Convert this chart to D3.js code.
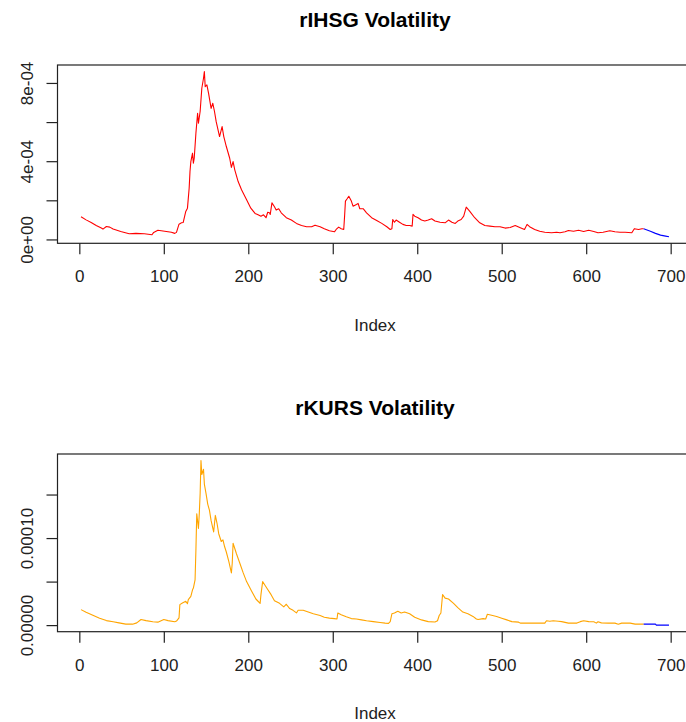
<!DOCTYPE html>
<html>
<head>
<meta charset="utf-8">
<script src="https://cdn.jsdelivr.net/npm/d3@7"></script>
<style>
  html, body { margin: 0; padding: 0; background: #fff; }
  svg { display: block; font-family: "Liberation Sans", Arial, sans-serif; }
</style>
</head>
<body>
<svg id="chart" width="686" height="722"></svg>
<script>
// ---------------- DATA ----------------
const titles = ["rIHSG Volatility", "rKURS Volatility"];
const xLabel = "Index";
const xTickValues = [0, 100, 200, 300, 400, 500, 600, 700];

// rIHSG fitted volatility (red)
const ihsgIndex = [2,8,14,20,26,28,32,36,40,49,59,67,77,86,88,93,101,109,113,115,118,121,123,126,128,130,131,132,134,135,136,138,140,141,143,145,147,148,149,151,153,156,158,160,162,166,169,171,174,178,180,182,184,188,192,198,203,208,211,215,218,221,223,225,226,228,231,233,236,239,245,251,257,263,269,275,279,285,290,296,302,304,307,310,313,314,315,317,319,322,324,328,330,332,336,340,346,352,358,364,368,370,371,373,375,379,383,387,391,394,395,397,401,405,409,413,417,421,427,433,437,441,445,448,452,455,458,462,468,474,480,486,492,498,504,510,516,522,527,530,533,539,545,551,559,565,569,575,579,585,591,597,603,609,614,620,628,634,640,646,654,657,662,666,668];
const ihsgValues = [1.16e-4,1.00e-4,0.87e-4,0.71e-4,0.58e-4,0.53e-4,0.66e-4,0.63e-4,0.53e-4,0.41e-4,0.29e-4,0.31e-4,0.29e-4,0.24e-4,0.36e-4,0.47e-4,0.42e-4,0.37e-4,0.31e-4,0.36e-4,0.78e-4,0.85e-4,0.87e-4,1.43e-4,1.60e-4,2.62e-4,3.47e-4,3.98e-4,4.41e-4,3.90e-4,4.15e-4,5.43e-4,6.45e-4,5.94e-4,6.54e-4,7.73e-4,8.24e-4,8.58e-4,7.81e-4,7.90e-4,7.47e-4,6.70e-4,6.96e-4,6.54e-4,6.02e-4,5.26e-4,5.77e-4,5.26e-4,4.75e-4,4.15e-4,3.68e-4,3.98e-4,3.56e-4,2.96e-4,2.54e-4,2.03e-4,1.60e-4,1.33e-4,1.28e-4,1.19e-4,1.26e-4,1.11e-4,1.39e-4,1.36e-4,1.28e-4,1.87e-4,1.67e-4,1.50e-4,1.57e-4,1.36e-4,1.11e-4,0.99e-4,0.82e-4,0.71e-4,0.65e-4,0.65e-4,0.73e-4,0.65e-4,0.55e-4,0.44e-4,0.39e-4,0.51e-4,0.63e-4,0.55e-4,0.51e-4,1.19e-4,1.96e-4,2.08e-4,2.21e-4,1.96e-4,1.70e-4,1.79e-4,1.84e-4,1.57e-4,1.57e-4,1.36e-4,1.11e-4,0.97e-4,0.82e-4,0.65e-4,0.51e-4,0.55e-4,1.02e-4,0.88e-4,0.99e-4,0.88e-4,0.77e-4,0.71e-4,0.71e-4,0.68e-4,1.28e-4,1.19e-4,1.11e-4,0.99e-4,0.94e-4,0.99e-4,1.06e-4,0.94e-4,0.88e-4,0.85e-4,0.99e-4,0.88e-4,0.82e-4,0.94e-4,1.02e-4,1.19e-4,1.65e-4,1.45e-4,1.11e-4,0.85e-4,0.71e-4,0.68e-4,0.65e-4,0.65e-4,0.58e-4,0.61e-4,0.71e-4,0.60e-4,0.51e-4,0.77e-4,0.65e-4,0.51e-4,0.42e-4,0.37e-4,0.34e-4,0.37e-4,0.34e-4,0.39e-4,0.46e-4,0.42e-4,0.47e-4,0.41e-4,0.47e-4,0.41e-4,0.34e-4,0.37e-4,0.44e-4,0.39e-4,0.37e-4,0.37e-4,0.34e-4,0.55e-4,0.51e-4,0.55e-4,0.55e-4];
// rIHSG forecast (blue)
const ihsgForecastIndex = [668,676,682,688,694,698];
const ihsgForecastValues = [0.55e-4,0.42e-4,0.31e-4,0.22e-4,0.17e-4,0.14e-4];

// rKURS fitted volatility (orange)
const kursIndex = [2,8,16,24,32,40,47,55,63,68,73,79,87,93,100,105,113,115,118,119,122,126,128,129,132,134,135,137,138,139,141,142,143,144,145,147,148,150,152,154,156,159,161,163,165,168,170,172,174,177,180,181,182,184,186,190,194,198,204,209,211,214,215,217,219,223,227,231,237,242,244,245,249,253,257,259,265,271,277,285,290,296,302,305,306,310,316,322,328,334,340,348,356,362,366,368,370,373,377,381,385,391,397,405,413,421,424,426,428,430,433,437,443,448,454,460,466,470,472,478,481,483,488,494,500,506,512,520,522,532,543,551,553,557,561,567,571,579,589,593,597,603,609,612,614,618,626,634,638,642,652,658,668];
const kursValues = [1.78e-5,1.48e-5,1.14e-5,0.80e-5,0.52e-5,0.38e-5,0.26e-5,0.11e-5,0.11e-5,0.26e-5,0.64e-5,0.52e-5,0.38e-5,0.34e-5,0.64e-5,0.52e-5,0.38e-5,0.46e-5,0.83e-5,2.35e-5,2.54e-5,2.73e-5,2.46e-5,2.92e-5,3.30e-5,4.06e-5,4.25e-5,5.19e-5,8.61e-5,1.28e-4,1.11e-4,1.28e-4,1.51e-4,1.89e-4,1.73e-4,1.79e-4,1.62e-4,1.51e-4,1.39e-4,1.32e-4,1.20e-4,1.07e-4,1.26e-4,1.17e-4,1.05e-4,0.96e-4,0.98e-4,0.90e-4,0.84e-4,0.73e-4,0.60e-4,0.71e-4,0.94e-4,0.88e-4,0.82e-4,0.71e-4,0.60e-4,0.50e-4,0.39e-4,0.30e-4,0.28e-4,0.25e-4,0.35e-4,0.50e-4,0.47e-4,0.41e-4,0.35e-4,0.28e-4,0.25e-4,0.21e-4,0.23e-4,0.24e-4,0.19e-4,0.17e-4,0.14e-4,0.17e-4,0.17e-4,0.15e-4,0.13e-4,0.11e-4,0.09e-4,0.08e-4,0.075e-4,0.07e-4,0.14e-4,0.12e-4,0.095e-4,0.075e-4,0.07e-4,0.06e-4,0.05e-4,0.04e-4,0.03e-4,0.023e-4,0.02e-4,0.04e-4,0.13e-4,0.14e-4,0.16e-4,0.14e-4,0.15e-4,0.13e-4,0.09e-4,0.06e-4,0.04e-4,0.035e-4,0.05e-4,0.11e-4,0.14e-4,0.35e-4,0.31e-4,0.30e-4,0.25e-4,0.20e-4,0.15e-4,0.13e-4,0.10e-4,0.07e-4,0.064e-4,0.075e-4,0.07e-4,0.125e-4,0.114e-4,0.10e-4,0.08e-4,0.06e-4,0.04e-4,0.034e-4,0.023e-4,0.023e-4,0.023e-4,0.023e-4,0.05e-4,0.045e-4,0.05e-4,0.045e-4,0.04e-4,0.023e-4,0.023e-4,0.04e-4,0.05e-4,0.04e-4,0.038e-4,0.023e-4,0.038e-4,0.026e-4,0.023e-4,0.023e-4,0.011e-4,0.023e-4,0.023e-4,0.011e-4,0.011e-4];
// rKURS forecast (blue)
const kursForecastIndex = [668,682,683,698];
const kursForecastValues = [0.011e-4,0.011e-4,0,0];

// y-axis ticks and labels
const ihsgYTicks = [0, 2e-4, 4e-4, 6e-4, 8e-4];
const ihsgYTickLabels = ["0e+00", "", "4e-04", "", "8e-04"];
const kursYTicks = [0, 5e-5, 1e-4, 1.5e-4];
const kursYTickLabels = ["0.00000", "", "0.00010", ""];

// ---------------- DRAW ----------------
const svg = d3.select("#chart");

function zip(ix, vs) { return ix.map((x, i) => ({ x: x, y: vs[i] })); }

function panel(cfg) {
  const fitted = zip(cfg.idx, cfg.vals);
  const fc = zip(cfg.fIdx, cfg.fVals);
  const all = fitted.concat(fc);

  // R-style 4% padding of the data range
  const xe = d3.extent(all, d => d.x);
  const ye = d3.extent(all, d => d.y);
  const xp = (xe[1] - xe[0]) * 0.04, yp = (ye[1] - ye[0]) * 0.04;

  const x = d3.scaleLinear().domain([xe[0] - xp, xe[1] + xp]).range([cfg.left, cfg.right]);
  const y = d3.scaleLinear().domain([ye[0] - yp, ye[1] + yp]).range([cfg.bottom, cfg.top]);

  const g = svg.append("g");

  const line = d3.line().x(d => x(d.x)).y(d => y(d.y));
  g.append("path").datum(fitted).attr("d", line)
    .attr("fill", "none").attr("stroke", cfg.color).attr("stroke-width", 1.1)
    .attr("stroke-linejoin", "round");
  g.append("path").datum(fc).attr("d", line)
    .attr("fill", "none").attr("stroke", "#0000FF").attr("stroke-width", 1.1)
    .attr("stroke-linejoin", "round");

  // box
  g.append("rect")
    .attr("x", cfg.left).attr("y", cfg.top)
    .attr("width", cfg.right - cfg.left).attr("height", cfg.bottom - cfg.top)
    .attr("fill", "none").attr("stroke", "#222").attr("stroke-width", 1.2);

  // x axis
  const xa = g.append("g").attr("transform", `translate(0,${cfg.bottom})`)
    .call(d3.axisBottom(x).tickValues(xTickValues).tickSize(11).tickFormat(d3.format("d")));
  xa.select(".domain").remove();
  xa.selectAll("line").attr("stroke", "#222").attr("stroke-width", 1.2);
  xa.selectAll("text").attr("y", 27).attr("dy", "0.71em")
    .attr("fill", "#222").style("font-size", "17px");

  // y axis
  const ya = g.append("g").attr("transform", `translate(${cfg.left},0)`)
    .call(d3.axisLeft(y).tickValues(cfg.yTicks).tickSize(11)
      .tickFormat((d, i) => cfg.yLabels[i]));
  ya.select(".domain").remove();
  ya.selectAll("line").attr("stroke", "#222").attr("stroke-width", 1.2);
  ya.selectAll("text")
    .attr("x", null).attr("dy", null)
    .attr("transform", "translate(-25,0) rotate(-90)")
    .attr("text-anchor", "middle")
    .attr("fill", "#222").style("font-size", "17px");

  // title
  g.append("text").attr("x", (cfg.left + cfg.right) / 2).attr("y", cfg.titleY)
    .attr("text-anchor", "middle").style("font-weight", "bold").style("font-size", "21px")
    .attr("fill", "#000").text(cfg.title);

  // x label
  g.append("text").attr("x", (cfg.left + cfg.right) / 2).attr("y", cfg.xLabelY)
    .attr("text-anchor", "middle").style("font-size", "17px")
    .attr("fill", "#222").text(xLabel);
}

panel({
  title: titles[0], idx: ihsgIndex, vals: ihsgValues,
  fIdx: ihsgForecastIndex, fVals: ihsgForecastValues,
  color: "#FF0000", yTicks: ihsgYTicks, yLabels: ihsgYTickLabels,
  left: 57.5, right: 692.5, top: 65, bottom: 243.3,
  titleY: 27, xLabelY: 331
});

panel({
  title: titles[1], idx: kursIndex, vals: kursValues,
  fIdx: kursForecastIndex, fVals: kursForecastValues,
  color: "#FFA500", yTicks: kursYTicks, yLabels: kursYTickLabels,
  left: 57.5, right: 692.5, top: 454, bottom: 631.7,
  titleY: 415, xLabelY: 719
});
</script>
</body>
</html>
